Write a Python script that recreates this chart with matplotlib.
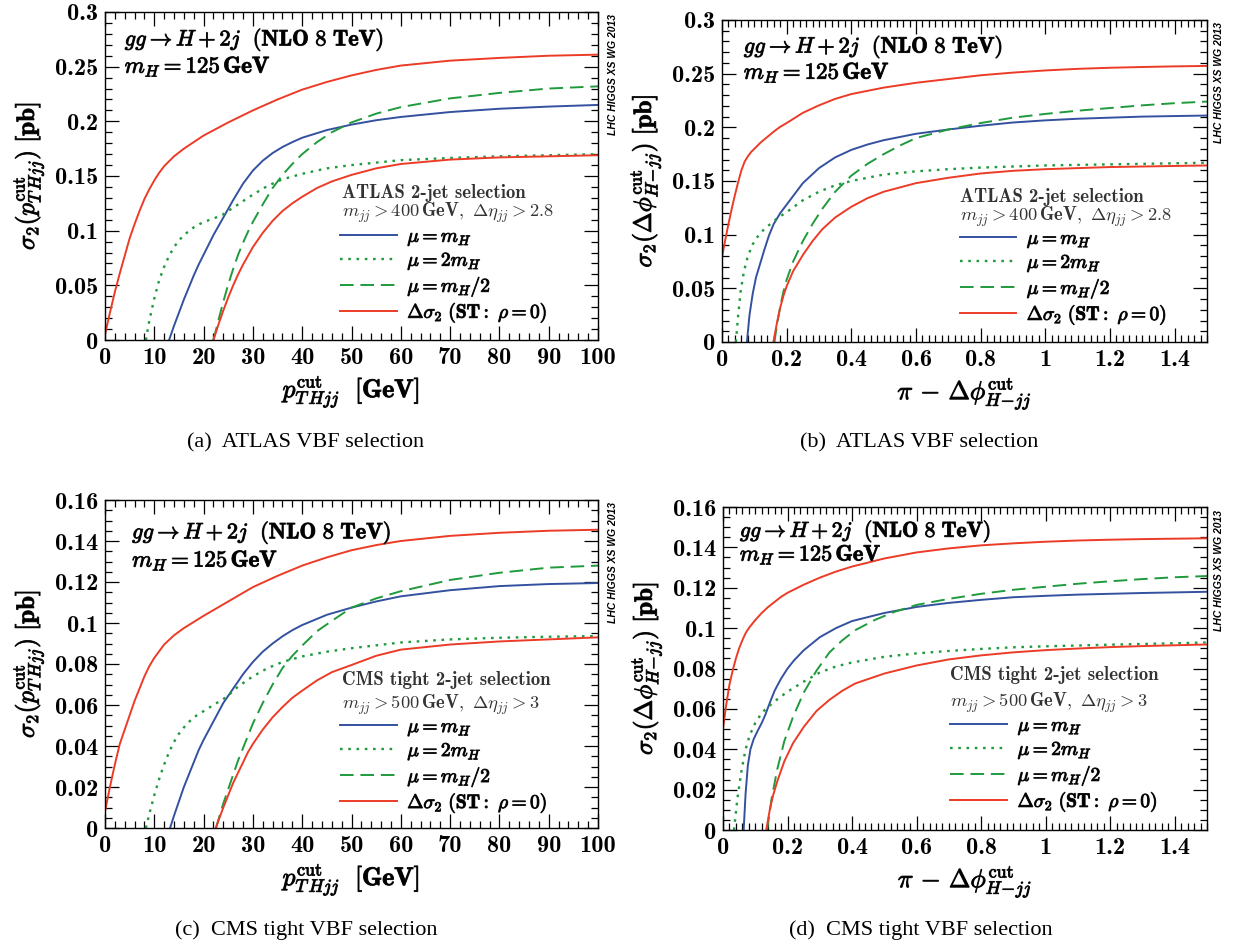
import matplotlib
matplotlib.use("Agg")
import matplotlib.pyplot as plt
import matplotlib.patheffects as pe
from matplotlib.ticker import MultipleLocator, FuncFormatter

plt.rcParams['mathtext.fontset'] = 'cm'
plt.rcParams['font.family'] = 'cmb10'
plt.rcParams['axes.unicode_minus'] = False

RED = '#ec3b26'
BLUE = '#33519f'
GREEN = '#1f9a3c'
BOLD = [pe.withStroke(linewidth=0.7, foreground='#222222')]

# ---- (a) ATLAS, pT_Hjj cut ----
a_red_hi_x = [0, 1, 2, 3, 4, 5, 6, 7, 8, 9, 10, 11, 12, 14, 16, 18, 20, 25, 30, 35, 40, 45, 50, 55, 60, 70, 80, 90, 100]
a_red_hi_y = [0.005, 0.025, 0.044, 0.061, 0.077, 0.093, 0.106, 0.118, 0.129, 0.138, 0.146, 0.153, 0.159, 0.168, 0.175,
              0.181, 0.187, 0.199, 0.210, 0.220, 0.229, 0.236, 0.242, 0.247, 0.251, 0.2555, 0.258, 0.260, 0.261]
a_blue_x = [13, 14, 15, 16, 17, 18, 19, 20, 22, 24, 26, 28, 30, 32, 34, 36, 38, 40, 45, 50, 55, 60, 70, 80, 90, 100]
a_blue_y = [0, 0.013, 0.025, 0.037, 0.048, 0.059, 0.069, 0.078, 0.096, 0.112, 0.128, 0.143, 0.155, 0.164, 0.171,
            0.1765, 0.181, 0.185, 0.192, 0.197, 0.201, 0.204, 0.2085, 0.2115, 0.2135, 0.215]
a_dot_x = [8.3, 9, 10, 11, 12, 13, 14, 15, 16, 18, 20, 22, 24, 27, 30, 33, 36, 40, 45, 50, 60, 70, 80, 90, 100]
a_dot_y = [0, 0.018, 0.038, 0.055, 0.067, 0.077, 0.085, 0.091, 0.096, 0.103, 0.108, 0.111, 0.115, 0.124, 0.133,
           0.141, 0.147, 0.152, 0.157, 0.160, 0.1645, 0.1665, 0.168, 0.169, 0.170]
a_dash_x = [22, 23, 24, 25, 26, 27, 28, 29, 30, 32, 34, 36, 38, 40, 43, 46, 50, 55, 60, 70, 80, 90, 100]
a_dash_y = [0, 0.018, 0.035, 0.051, 0.065, 0.078, 0.089, 0.099, 0.108, 0.124, 0.139, 0.151, 0.161, 0.170, 0.181,
            0.190, 0.199, 0.207, 0.213, 0.221, 0.226, 0.230, 0.232]
a_red_lo_x = [22, 23, 24, 25, 26, 27, 28, 29, 30, 32, 34, 36, 38, 40, 43, 46, 50, 55, 60, 70, 80, 90, 100]
a_red_lo_y = [0, 0.014, 0.027, 0.039, 0.05, 0.06, 0.069, 0.077, 0.085, 0.098, 0.109, 0.118, 0.125, 0.131, 0.139,
              0.145, 0.151, 0.157, 0.161, 0.165, 0.167, 0.168, 0.169]

# ---- (b) ATLAS, delta phi cut ----
b_red_hi_x = [0, 0.01, 0.02, 0.03, 0.04, 0.05, 0.06, 0.07, 0.08, 0.09, 0.1, 0.12, 0.14, 0.16, 0.18, 0.2, 0.25, 0.3,
              0.35, 0.4, 0.5, 0.6, 0.7, 0.8, 0.9, 1.0, 1.1, 1.2, 1.3, 1.4, 1.5]
b_red_hi_y = [0.079, 0.095, 0.11, 0.124, 0.137, 0.149, 0.16, 0.168, 0.173, 0.177, 0.180, 0.186, 0.191, 0.196, 0.2005,
              0.204, 0.2135, 0.2205, 0.2265, 0.231, 0.237, 0.2415, 0.245, 0.2485, 0.251, 0.253, 0.2545, 0.2555,
              0.2562, 0.2568, 0.2572]
b_blue_x = [0.077, 0.085, 0.095, 0.105, 0.115, 0.13, 0.145, 0.16, 0.18, 0.2, 0.25, 0.3, 0.35, 0.4, 0.45, 0.5, 0.6,
            0.7, 0.8, 0.9, 1.0, 1.1, 1.2, 1.3, 1.4, 1.5]
b_blue_y = [0, 0.025, 0.045, 0.06, 0.07, 0.085, 0.099, 0.11, 0.12, 0.128, 0.148, 0.162, 0.172, 0.179, 0.184, 0.188,
            0.194, 0.198, 0.2015, 0.2045, 0.2065, 0.208, 0.209, 0.21, 0.2105, 0.211]
b_dot_x = [0.043, 0.05, 0.058, 0.068, 0.08, 0.095, 0.11, 0.13, 0.15, 0.17, 0.2, 0.25, 0.3, 0.35, 0.4, 0.5, 0.6, 0.7,
           0.8, 0.9, 1.0, 1.2, 1.4, 1.5]
b_dot_y = [0, 0.025, 0.048, 0.066, 0.08, 0.091, 0.098, 0.105, 0.11, 0.115, 0.121, 0.132, 0.14, 0.146, 0.15, 0.156,
           0.159, 0.161, 0.1625, 0.1635, 0.1645, 0.1655, 0.1665, 0.167]
b_dash_x = [0.162, 0.17, 0.18, 0.19, 0.2, 0.22, 0.25, 0.28, 0.31, 0.35, 0.4, 0.45, 0.5, 0.55, 0.6, 0.7, 0.8, 0.9,
            1.0, 1.1, 1.2, 1.3, 1.4, 1.5]
b_dash_y = [0, 0.016, 0.033, 0.047, 0.058, 0.075, 0.094, 0.11, 0.124, 0.14, 0.155, 0.166, 0.175, 0.183, 0.19, 0.198,
            0.204, 0.209, 0.2125, 0.2155, 0.218, 0.2205, 0.2225, 0.224]
b_red_lo_x = [0.159, 0.17, 0.18, 0.19, 0.2, 0.22, 0.25, 0.28, 0.31, 0.35, 0.4, 0.45, 0.5, 0.6, 0.7, 0.8, 0.9, 1.0,
              1.1, 1.2, 1.3, 1.4, 1.5]
b_red_lo_y = [0, 0.018, 0.032, 0.043, 0.052, 0.066, 0.081, 0.094, 0.105, 0.116, 0.126, 0.134, 0.14, 0.148, 0.153,
              0.157, 0.1595, 0.161, 0.162, 0.163, 0.1635, 0.164, 0.1645]

# ---- (c) CMS tight, pT_Hjj cut ----
c_red_hi_x = [0, 1, 2, 3, 4, 5, 6, 7, 8, 9, 10, 12, 14, 16, 18, 20, 25, 30, 35, 40, 45, 50, 55, 60, 70, 80, 90, 100]
c_red_hi_y = [0.008, 0.02, 0.031, 0.041, 0.048, 0.055, 0.062, 0.068, 0.074, 0.079, 0.083, 0.0895, 0.094, 0.0975,
              0.1005, 0.1035, 0.1105, 0.1175, 0.123, 0.128, 0.132, 0.1355, 0.138, 0.140, 0.1425, 0.144, 0.145, 0.1455]
c_blue_x = [13.2, 14, 15, 16, 17, 18, 19, 20, 22, 24, 26, 28, 30, 32, 34, 36, 38, 40, 45, 50, 55, 60, 70, 80, 90, 100]
c_blue_y = [0, 0.006, 0.013, 0.02, 0.026, 0.032, 0.038, 0.043, 0.052, 0.061, 0.068, 0.075, 0.081, 0.086, 0.09,
            0.0935, 0.0965, 0.099, 0.104, 0.1075, 0.1105, 0.113, 0.116, 0.118, 0.119, 0.1195]
c_dot_x = [8.3, 9, 10, 11, 12, 13, 14, 15, 16.5, 18, 20, 22, 24.7, 27, 30, 33, 36, 40, 45, 50, 60, 70, 80, 90, 100]
c_dot_y = [0, 0.007, 0.016, 0.024, 0.031, 0.037, 0.042, 0.046, 0.0505, 0.054, 0.057, 0.06, 0.064, 0.069, 0.074,
           0.078, 0.081, 0.0837, 0.086, 0.0877, 0.0905, 0.092, 0.0928, 0.0933, 0.0936]
c_dash_x = [22.5, 23, 24, 25, 26, 27, 28, 29, 30, 32, 34, 36, 38, 40, 43, 46, 50, 55, 60, 70, 80, 90, 100]
c_dash_y = [0, 0.004, 0.012, 0.019, 0.026, 0.033, 0.039, 0.045, 0.051, 0.061, 0.07, 0.078, 0.084, 0.089, 0.096,
            0.101, 0.1075, 0.112, 0.1155, 0.121, 0.1245, 0.127, 0.128]
c_red_lo_x = [22.5, 23, 24, 25, 26, 27, 28, 29, 30, 32, 34, 36, 38, 40, 43, 46, 50, 55, 60, 70, 80, 90, 100]
c_red_lo_y = [0, 0.0035, 0.01, 0.016, 0.022, 0.027, 0.032, 0.037, 0.041, 0.048, 0.054, 0.059, 0.0635, 0.067, 0.072,
              0.076, 0.0795, 0.084, 0.087, 0.0895, 0.091, 0.092, 0.093]

# ---- (d) CMS tight, delta phi cut ----
d_red_hi_x = [0, 0.01, 0.02, 0.03, 0.04, 0.05, 0.06, 0.07, 0.08, 0.09, 0.1, 0.12, 0.14, 0.16, 0.18, 0.2, 0.25, 0.3,
              0.35, 0.4, 0.5, 0.6, 0.7, 0.8, 0.9, 1.0, 1.1, 1.2, 1.3, 1.4, 1.5]
d_red_hi_y = [0.0503, 0.062, 0.072, 0.079, 0.085, 0.09, 0.094, 0.0975, 0.1, 0.102, 0.104, 0.1075, 0.1105, 0.113,
              0.1155, 0.1175, 0.1215, 0.125, 0.128, 0.1305, 0.1345, 0.1375, 0.1395, 0.141, 0.142, 0.1428, 0.1434,
              0.1438, 0.1441, 0.1443, 0.1445]
d_blue_x = [0.064, 0.07, 0.077, 0.085, 0.095, 0.107, 0.12, 0.131, 0.145, 0.16, 0.18, 0.2, 0.22, 0.25, 0.3, 0.35, 0.4,
            0.5, 0.6, 0.7, 0.8, 0.9, 1.0, 1.1, 1.2, 1.3, 1.4, 1.5]
d_blue_y = [0, 0.018, 0.032, 0.04, 0.045, 0.049, 0.053, 0.057, 0.063, 0.069, 0.075, 0.08, 0.084, 0.089, 0.0955, 0.1,
            0.1035, 0.1075, 0.1105, 0.1125, 0.114, 0.1153, 0.116, 0.1166, 0.117, 0.1174, 0.1177, 0.118]
d_dot_x = [0.034, 0.045, 0.058, 0.07, 0.083, 0.1, 0.12, 0.14, 0.17, 0.2, 0.25, 0.3, 0.35, 0.4, 0.5, 0.6, 0.7, 0.8,
           0.9, 1.0, 1.2, 1.4, 1.5]
d_dot_y = [0, 0.016, 0.03, 0.04, 0.047, 0.053, 0.058, 0.061, 0.065, 0.0685, 0.0735, 0.078, 0.081, 0.083, 0.0858,
           0.0875, 0.0887, 0.0897, 0.0905, 0.091, 0.0918, 0.0925, 0.0929]
d_dash_x = [0.137, 0.15, 0.168, 0.19, 0.217, 0.25, 0.29, 0.33, 0.37, 0.41, 0.47, 0.53, 0.6, 0.7, 0.8, 0.9, 1.0, 1.1,
            1.2, 1.3, 1.4, 1.5]
d_dash_y = [0, 0.015, 0.03, 0.044, 0.056, 0.068, 0.079, 0.088, 0.094, 0.099, 0.104, 0.108, 0.1115, 0.1145, 0.117,
            0.119, 0.1205, 0.122, 0.1232, 0.1243, 0.1252, 0.1258]
d_red_lo_x = [0.134, 0.145, 0.155, 0.168, 0.19, 0.217, 0.25, 0.29, 0.33, 0.37, 0.41, 0.5, 0.6, 0.7, 0.8, 0.9, 1.0,
              1.1, 1.2, 1.3, 1.4, 1.5]
d_red_lo_y = [0, 0.01, 0.017, 0.024, 0.034, 0.043, 0.051, 0.059, 0.0645, 0.069, 0.0726, 0.0775, 0.0815, 0.0845,
              0.0865, 0.088, 0.0891, 0.0899, 0.0906, 0.0911, 0.0915, 0.0919]

legend_labels = [r'$\mu = m_H$', r'$\mu = 2m_H$', r'$\mu = m_H/2$',
                 r'$\Delta\sigma_2\ \mathbf{(ST{:}}\ \rho = \mathbf{0)}$']
captions = ['(a)  ATLAS VBF selection', '(b)  ATLAS VBF selection',
            '(c)  CMS tight VBF selection', '(d)  CMS tight VBF selection']
sel_title = ['ATLAS 2-jet selection', 'ATLAS 2-jet selection',
             'CMS tight 2-jet selection', 'CMS tight 2-jet selection']
sel_cuts = [r'$m_{jj}>\mathbf{400\,GeV,}\ \Delta\eta_{jj}>\mathbf{2.8}$',
            r'$m_{jj}>\mathbf{400\,GeV,}\ \Delta\eta_{jj}>\mathbf{2.8}$',
            r'$m_{jj}>\mathbf{500\,GeV,}\ \Delta\eta_{jj}>\mathbf{3}$',
            r'$m_{jj}>\mathbf{500\,GeV,}\ \Delta\eta_{jj}>\mathbf{3}$']

W, H = 1236, 947
fig = plt.figure(figsize=(W / 100, H / 100), dpi=100)


def px_axes(l, t, r, b):
    return fig.add_axes([l / W, (H - b) / H, (r - l) / W, (b - t) / H])


def draw_panel(ax, series, xlim, ylim, xmaj, xmin, ymaj, ymin, ann_pos, title_pos, leg_pos, idx, ann_size=16):
    (rhx, rhy), (bx, by), (dtx, dty), (dsx, dsy), (rlx, rly) = series
    h_blue, = ax.plot(bx, by, color=BLUE, lw=1.4)
    h_dot, = ax.plot(dtx, dty, color=GREEN, lw=1.7, ls=(0, (1.1, 2.4)))
    h_dash, = ax.plot(dsx, dsy, color=GREEN, lw=1.4, ls=(0, (7, 3.5)))
    h_red, = ax.plot(rhx, rhy, color=RED, lw=1.4)
    ax.plot(rlx, rly, color=RED, lw=1.4)
    ax.set_xlim(*xlim)
    ax.set_ylim(*ylim)
    ax.xaxis.set_major_locator(MultipleLocator(xmaj))
    ax.xaxis.set_minor_locator(MultipleLocator(xmin))
    ax.yaxis.set_major_locator(MultipleLocator(ymaj))
    ax.yaxis.set_minor_locator(MultipleLocator(ymin))
    fmt = FuncFormatter(lambda v, p: '%g' % round(v, 6))
    ax.xaxis.set_major_formatter(fmt)
    ax.yaxis.set_major_formatter(fmt)
    ax.tick_params(which='both', direction='in', top=True, right=True, width=0.9, labelsize=17.5)
    ax.tick_params(which='major', length=10, pad=5)
    ax.tick_params(which='minor', length=5)
    for s in ax.spines.values():
        s.set_linewidth(1.0)
    ax.text(ann_pos[0], ann_pos[1], r'$gg\rightarrow H+2j\ \ \mathbf{(NLO\ 8\ TeV)}$',
            transform=ax.transAxes, fontsize=ann_size, va='center', path_effects=BOLD)
    ax.text(ann_pos[0], ann_pos[2], r'$m_H=\mathbf{125\,GeV}$',
            transform=ax.transAxes, fontsize=ann_size + 0.5, va='center', path_effects=BOLD)
    ax.text(title_pos[0], title_pos[1], sel_title[idx], transform=ax.transAxes,
            fontsize=13.5, va='center', color='#333333')
    ax.text(title_pos[0], title_pos[2], sel_cuts[idx], transform=ax.transAxes,
            fontsize=13.3, va='center', color='#333333')
    leg = ax.legend([h_blue, h_dot, h_dash, h_red], legend_labels, loc='upper left',
                    bbox_to_anchor=leg_pos, frameon=False, fontsize=14,
                    handlelength=2.9, handletextpad=0.55, labelspacing=0.1,
                    borderaxespad=0, borderpad=0)
    for t in leg.get_texts():
        t.set_path_effects(BOLD)


series_a = [(a_red_hi_x, a_red_hi_y), (a_blue_x, a_blue_y), (a_dot_x, a_dot_y),
            (a_dash_x, a_dash_y), (a_red_lo_x, a_red_lo_y)]
series_b = [(b_red_hi_x, b_red_hi_y), (b_blue_x, b_blue_y), (b_dot_x, b_dot_y),
            (b_dash_x, b_dash_y), (b_red_lo_x, b_red_lo_y)]
series_c = [(c_red_hi_x, c_red_hi_y), (c_blue_x, c_blue_y), (c_dot_x, c_dot_y),
            (c_dash_x, c_dash_y), (c_red_lo_x, c_red_lo_y)]
series_d = [(d_red_hi_x, d_red_hi_y), (d_blue_x, d_blue_y), (d_dot_x, d_dot_y),
            (d_dash_x, d_dash_y), (d_red_lo_x, d_red_lo_y)]

ylab_pt = r'$\sigma_2(p_{T\,Hjj}^{\rm cut})\ \mathbf{[pb]}$'
xlab_pt = r'$p_{T\,Hjj}^{\rm cut}\ \ \mathbf{[GeV]}$'
ylab_phi = r'$\sigma_2(\Delta\phi_{H\!-\!jj}^{\rm cut})\ \mathbf{[pb]}$'
xlab_phi = r'$\pi\,-\,\Delta\phi_{H\!-\!jj}^{\rm cut}$'

ax_a = px_axes(105, 12, 598, 340)
draw_panel(ax_a, series_a, (0, 100), (0, 0.3), 10, 2, 0.05, 0.01,
           (0.04, 0.915, 0.835), (0.48, 0.448, 0.387), (0.477, 0.342), 0)
ax_b = px_axes(722, 20, 1207, 342)
draw_panel(ax_b, series_b, (0, 1.5), (0, 0.3), 0.2, 0.02, 0.05, 0.01,
           (0.045, 0.916, 0.838), (0.49, 0.45, 0.388), (0.49, 0.348), 1)
ax_c = px_axes(105, 500, 598, 828)
draw_panel(ax_c, series_c, (0, 100), (0, 0.16), 10, 2, 0.02, 0.005,
           (0.055, 0.90, 0.817), (0.48, 0.45, 0.375), (0.477, 0.335), 2)
ax_d = px_axes(723, 507, 1207, 830)
draw_panel(ax_d, series_d, (0, 1.5), (0, 0.16), 0.2, 0.02, 0.02, 0.005,
           (0.035, 0.925, 0.853), (0.47, 0.48, 0.395), (0.47, 0.35), 3, ann_size=15.5)

for ax in (ax_a, ax_c):
    ax.set_ylabel(ylab_pt, fontsize=18, labelpad=6, path_effects=BOLD)
    ax.set_xlabel(xlab_pt, fontsize=18.5, labelpad=3, path_effects=BOLD)
for ax in (ax_b, ax_d):
    ax.set_ylabel(ylab_phi, fontsize=18, labelpad=6, path_effects=BOLD)
    ax.set_xlabel(xlab_phi, fontsize=18.5, labelpad=3, path_effects=BOLD)

# LHC HIGGS XS WG 2013 stamps
for xs, ys in ((613, 14), (1219, 22), (613, 502), (1219, 510)):
    fig.text(xs / W, 1 - ys / H, 'LHC HIGGS XS WG 2013', rotation=90, ha='center', va='top',
             fontsize=7.5, family='Liberation Sans', weight='bold', style='italic')

# sub-figure captions
for (cx, cy), cap in zip(((187, 443), (800, 443), (175, 930), (789, 930)), captions):
    fig.text(cx / W, 1 - cy / H, cap, ha='left', va='center', fontsize=16,
             family='Liberation Serif')

fig.savefig('out.png', dpi=100)
